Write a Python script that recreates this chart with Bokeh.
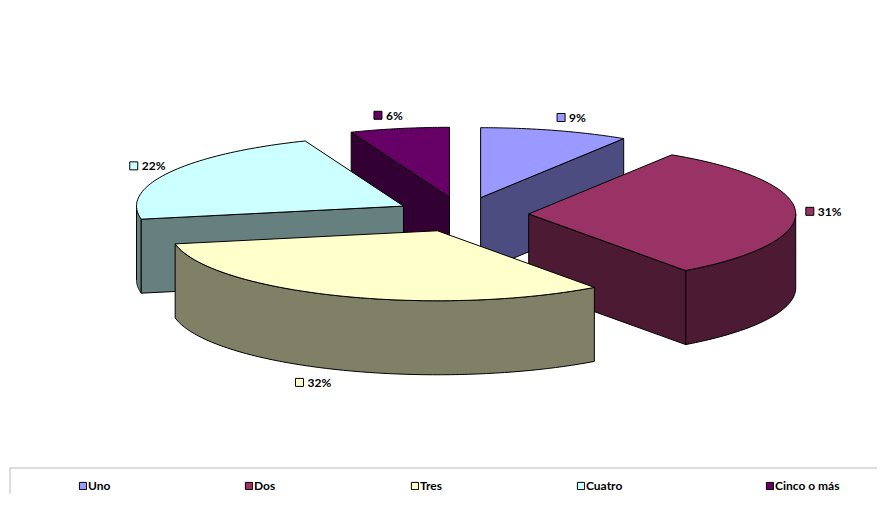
import numpy as np
from bokeh.plotting import figure
from bokeh.models import Range1d, Legend, LegendItem, BoxAnnotation, ColumnDataSource
from bokeh.core.properties import value
from bokeh.embed import file_html
from bokeh.resources import INLINE

# ---------------- data ----------------
categories = ["Uno", "Dos", "Tres", "Cuatro", "Cinco o más"]
percents = [9, 31, 32, 22, 6]
pct_labels = ["9%", "31%", "32%", "22%", "6%"]
top_colors = ["#9999FF", "#993366", "#FFFFCC", "#CCFFFF", "#660066"]

# ---------------- layout constants ----------------
CX, CY = 461.5, 214.0      # pie centre (screen px)
RX, RY = 267.0, 70.0       # ellipse radii of top face
DEPTH = 74.0               # thickness of the pie
EXPLODE = 0.25             # explosion fraction of radius
FONT = "Lato"
W, H = 877, 494


def shade(hexcol, f=0.5):
    r, g, b = (int(hexcol[i:i + 2], 16) for i in (1, 3, 5))
    return "#%02x%02x%02x" % (int(round(r * f)), int(round(g * f)), int(round(b * f)))


def rim(c, th, down=0.0):
    return c[0] + RX * np.sin(th), c[1] - RY * np.cos(th) + down


def arc(c, t0, t1, down=0.0, n=60):
    ts = np.linspace(t0, t1, n)
    xs = c[0] + RX * np.sin(ts)
    ys = c[1] - RY * np.cos(ts) + down
    return list(xs), list(ys)


p = figure(width=W, height=H, x_range=Range1d(0, W), y_range=Range1d(H, 0),
           output_backend="svg", toolbar_location=None, min_border=0,
           background_fill_color="white", border_fill_color="white")
p.axis.visible = False
p.grid.visible = False
p.outline_line_color = None

total = float(sum(percents))
fracs = np.array(percents) / total
ends = np.cumsum(fracs) * 2 * np.pi
starts = np.concatenate([[0.0], ends[:-1]])

slices = []
for i in range(len(categories)):
    a0, a1 = starts[i], ends[i]
    b = 0.5 * (a0 + a1)
    c = (CX + EXPLODE * RX * np.sin(b), CY - EXPLODE * RY * np.cos(b))
    slices.append((i, a0, a1, b, c))

order = sorted(slices, key=lambda s: s[4][1])
top_renderers = {}
for (i, a0, a1, b, c) in order:
    side = shade(top_colors[i])
    faces = []
    # outer curved wall (front half only)
    lo, hi = max(a0, np.pi / 2), min(a1, 1.5 * np.pi)
    if lo < hi:
        tx, ty = arc(c, lo, hi)
        bx, by = arc(c, hi, lo, DEPTH)
        faces.append((tx + bx, ty + by))
    # radial walls
    for ang, visible in ((a1, np.sin(a1) > 1e-6), (a0, np.sin(a0) < -1e-6)):
        if visible:
            rx_, ry_ = rim(c, ang)
            faces.append(([c[0], rx_, rx_, c[0]], [c[1], ry_, ry_ + DEPTH, c[1] + DEPTH]))
    for xs, ys in faces:
        p.patch(xs, ys, fill_color=side, line_color="black", line_width=1)
    ax, ay = arc(c, a0, a1)
    top_renderers[i] = p.patch([c[0]] + ax, [c[1]] + ay, fill_color=top_colors[i],
                               line_color="black", line_width=1)

# ---------------- data labels ----------------
mx, tx, ly, lab, lcol = [], [], [], [], []
for (i, a0, a1, b, c) in slices:
    sb, cb = np.sin(b), np.cos(b)
    rx_, ry_ = rim(c, b)
    push = 10 if cb >= 0 else 22
    cxl = rx_ + push * np.sign(sb) + 16 * sb
    cyl = ry_ - 13.5 * cb + (DEPTH if cb < 0 else 0)
    w = 12 + 6.5 * len(pct_labels[i])
    left = cxl - w / 2
    mx.append(left + 4)
    tx.append(left + 12)
    ly.append(cyl)
    lab.append(pct_labels[i])
    lcol.append(top_colors[i])

src = ColumnDataSource(dict(mx=mx, tx=tx, y=ly, text=lab, color=lcol))
p.scatter("mx", "y", source=src, marker="square", size=8, fill_color="color",
          line_color="black", line_width=1)
p.text("tx", "y", text="text", source=src, text_font=value(FONT), text_font_style="bold",
       text_font_size="12px", text_baseline="middle", text_align="left", text_color="black")

# ---------------- legend ----------------
box = BoxAnnotation(left=9.5, right=1000, top=467.5, bottom=600, fill_alpha=0,
                    line_color="#202020", line_width=1)
p.add_layout(box)


def make_legend(idx, loc):
    items = [LegendItem(label=categories[k], renderers=[top_renderers[k]]) for k in idx]
    lg = Legend(items=items, orientation="horizontal", location=loc,
                glyph_width=9, glyph_height=9, label_height=9, label_width=150,
                label_standoff=1, spacing=6, padding=0, margin=0,
                label_text_font=FONT, label_text_font_style="bold",
                label_text_font_size="12px", label_text_color="black",
                background_fill_alpha=0, border_line_alpha=0)
    p.add_layout(lg)


make_legend([0, 1, 2, 3], (78, 1))
make_legend([4], (765, 1))

open("out.html", "w").write(file_html(p, INLINE))
